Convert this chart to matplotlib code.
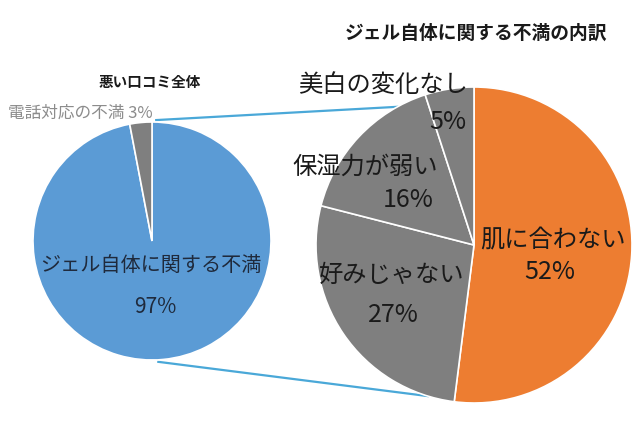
import numpy as np
import matplotlib
matplotlib.use('Agg')
import matplotlib.pyplot as plt

plt.rcParams['font.family'] = ['Noto Sans CJK JP', 'DejaVu Sans']

# left pie: all bad reviews
all_labels = ['ジェル自体に関する不満', '電話対応の不満']
all_values = [97, 3]
all_colors = ['#5b9bd5', '#7f7f7f']

# right pie: breakdown of gel complaints
gel_labels = ['肌に合わない', '好みじゃない', '保湿力が弱い', '美白の変化なし']
gel_values = [52, 27, 16, 5]
gel_colors = ['#ed7d31', '#7f7f7f', '#7f7f7f', '#7f7f7f']

left_title = '悪い口コミ全体'
right_title = 'ジェル自体に関する不満の内訳'

H = 430
def Y(y):
    """pixel row (from top) -> data y"""
    return H - y

fig = plt.figure(figsize=(6.4, 4.3), dpi=100)
ax = fig.add_axes([0, 0, 1, 1])

lc, lr = (152, Y(241)), 119
rc, rr = (474, Y(245)), 158

wp = dict(edgecolor='white', linewidth=1.2)
ax.pie(all_values, colors=all_colors, startangle=90, counterclock=False,
       center=lc, radius=lr, wedgeprops=wp, frame=True)
ax.pie(gel_values, colors=gel_colors, startangle=90, counterclock=False,
       center=rc, radius=rr, wedgeprops=wp, frame=True)
ax.set_xlim(0, 640)
ax.set_ylim(0, H)
ax.set_aspect('equal')
ax.axis('off')

#### connecting lines
def on_circle(c, r, deg):
    a = np.deg2rad(deg)
    return c[0] + r * np.cos(a), c[1] + r * np.sin(a)

line_col = '#4aa8d8'
for a1, a2 in [(88, 119), (-87, -107)]:
    x1, y1 = on_circle(lc, lr + 2, a1)
    x2, y2 = on_circle(rc, rr, a2)
    ax.plot([x1, x2], [y1, y2], color=line_col, lw=1.6, zorder=0)

dark = '#1a1a1a'
ax.text(150, Y(82), left_title, fontsize=10.5, fontweight='bold', ha='center', va='center', color=dark)
ax.text(476, Y(33), right_title, fontsize=13.5, fontweight='bold', ha='center', va='center', color=dark)

ax.text(80, Y(113), f'{all_labels[1]} {all_values[1]}%', fontsize=12, ha='center', va='center', color='#8c8c8c')
ax.text(151, Y(265), all_labels[0], fontsize=14.5, ha='center', va='center', color='#1f2a3c')
ax.text(155, Y(307), f'{all_values[0]}%', fontsize=15, ha='center', va='center', color='#1f2a3c')

# right pie labels
pos = [((553, 240), (550, 272)),
       ((392, 275), (393, 315)),
       ((365, 167), (408, 200)),
       ((383, 85), (448, 122))]
for lab, val, (p1, p2) in zip(gel_labels, gel_values, pos):
    ax.text(p1[0], Y(p1[1]), lab, fontsize=17.5, ha='center', va='center', color=dark)
    ax.text(p2[0], Y(p2[1]), f'{val}%', fontsize=18, ha='center', va='center', color=dark)

fig.savefig('out.png', dpi=100)
